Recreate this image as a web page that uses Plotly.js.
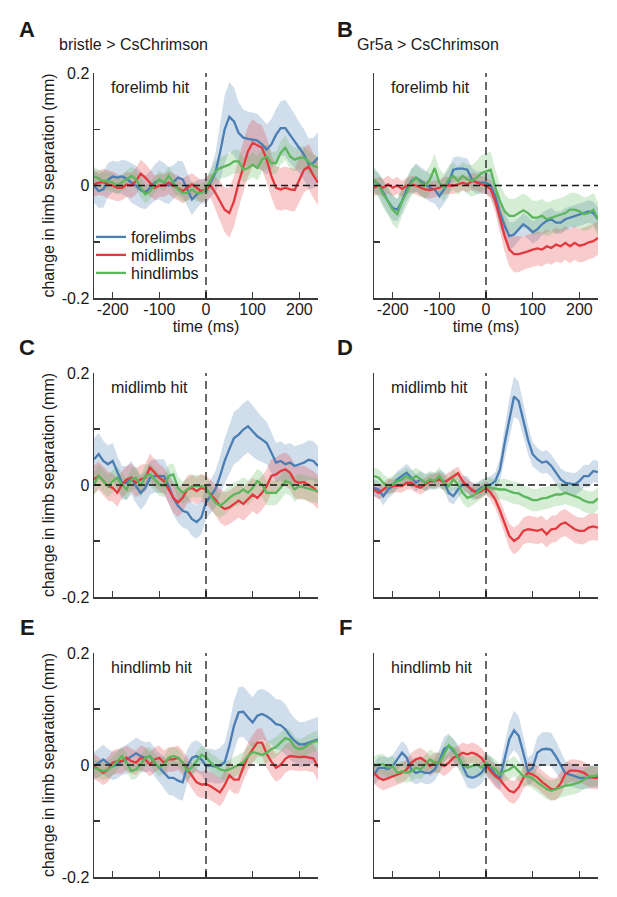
<!DOCTYPE html>
<html>
<head>
<meta charset="utf-8">
<script src="https://cdn.plot.ly/plotly-3.0.1.min.js"></script>
<style>
html,body{margin:0;padding:0;background:#ffffff;}
#chart{width:617px;height:897px;}
</style>
</head>
<body>
<div id="chart"></div>
<script>
// ---------------- data ----------------
const timeMs = [-240,-230,-220,-210,-200,-190,-180,-170,-160,-150,-140,-130,-120,-110,-100,-90,-80,-70,-60,-50,-40,-30,-20,-10,0,10,20,30,40,50,60,70,80,90,100,110,120,130,140,150,160,170,180,190,200,210,220,230,240];

const seriesNames = ["forelimbs","midlimbs","hindlimbs"];
const panelLetters = ["A","B","C","D","E","F"];
const hitLabels = ["forelimb hit","forelimb hit","midlimb hit","midlimb hit","hindlimb hit","hindlimb hit"];
const genotypeLabels = ["bristle > CsChrimson","Gr5a > CsChrimson"];
const yTickVals = [-0.2,-0.1,0,0.1,0.2];
const yTickText = ["-0.2","","0","","0.2"];
const xTickVals = [-200,-100,0,100,200];
const xTickText = ["-200","-100","0","100","200"];
const xTitle = "time (ms)";
const yTitle = "change in limb separation (mm)";

// Panel A: bristle > CsChrimson, forelimb hit
const A_fore = [0,-0.01,-0.007,0.01,0.016,0.014,0.016,0.012,0.005,0,-0.008,-0.012,-0.004,0.005,0.01,0.005,0,0.006,0.014,0.011,-0.007,-0.025,-0.016,-0.01,-0.01,0.005,0.022,0.058,0.1,0.122,0.114,0.093,0.085,0.083,0.082,0.08,0.073,0.064,0.073,0.09,0.102,0.102,0.09,0.079,0.067,0.055,0.038,0.04,0.05];
const A_mid = [0.002,0.005,0.006,0.002,0,-0.004,-0.004,0.002,0,0.008,0.021,0.014,0.005,-0.004,0,0,0.005,0,-0.004,-0.01,-0.004,0.002,-0.004,-0.01,-0.007,0,-0.013,-0.028,-0.043,-0.049,-0.028,0.005,0.034,0.061,0.076,0.071,0.067,0.046,0.017,-0.004,-0.007,-0.004,-0.007,-0.008,0.01,0.028,0.034,0.018,0.005];
const A_hind = [0.017,0.012,0.008,0.008,0.005,0,0.005,0.011,0.017,0.011,-0.004,-0.016,-0.01,0.002,0.011,0.005,0.017,0.005,-0.007,-0.013,-0.013,-0.007,-0.013,-0.013,-0.007,0.011,0.025,0.031,0.034,0.037,0.043,0.043,0.028,0.031,0.037,0.031,0.046,0.052,0.04,0.04,0.058,0.067,0.052,0.046,0.049,0.05,0.042,0.035,0.032];
const A_fore_sem = [0.03,0.03,0.032,0.03,0.028,0.028,0.03,0.032,0.035,0.035,0.032,0.03,0.03,0.032,0.035,0.035,0.033,0.03,0.03,0.032,0.03,0.028,0.025,0.022,0.022,0.025,0.035,0.05,0.06,0.062,0.06,0.055,0.05,0.048,0.048,0.047,0.046,0.045,0.045,0.046,0.048,0.05,0.05,0.048,0.045,0.045,0.045,0.045,0.045];
const A_mid_sem = [0.022,0.022,0.024,0.025,0.025,0.024,0.022,0.022,0.022,0.024,0.025,0.025,0.024,0.022,0.02,0.02,0.02,0.022,0.022,0.022,0.022,0.02,0.02,0.02,0.02,0.022,0.028,0.035,0.04,0.044,0.045,0.045,0.045,0.045,0.042,0.04,0.04,0.04,0.038,0.038,0.038,0.038,0.038,0.038,0.038,0.04,0.04,0.04,0.04];
const A_hind_sem = [0.016,0.016,0.017,0.017,0.016,0.015,0.015,0.016,0.016,0.017,0.017,0.016,0.015,0.015,0.016,0.016,0.017,0.017,0.016,0.015,0.015,0.015,0.016,0.016,0.016,0.017,0.018,0.019,0.02,0.02,0.021,0.021,0.022,0.022,0.022,0.022,0.021,0.021,0.02,0.02,0.021,0.022,0.022,0.021,0.02,0.02,0.02,0.02,0.02];

// Panel B: Gr5a > CsChrimson, forelimb hit
const B_fore = [0.008,0.002,-0.013,-0.028,-0.04,-0.043,-0.028,-0.007,0.008,0.014,0.008,0.002,-0.004,-0.007,-0.019,-0.007,0.005,0.028,0.03,0.03,0.028,0.011,0.005,0.005,0.005,0,-0.019,-0.049,-0.072,-0.09,-0.087,-0.078,-0.069,-0.075,-0.083,-0.078,-0.069,-0.063,-0.06,-0.066,-0.066,-0.06,-0.057,-0.054,-0.051,-0.049,-0.046,-0.049,-0.06];
const B_mid = [-0.004,0,-0.004,0.002,-0.004,0,-0.006,0,0.002,0,-0.004,-0.007,-0.008,-0.006,-0.004,0,0,0,0.002,0.005,0.002,0.008,0.006,0.002,0,-0.007,-0.028,-0.06,-0.09,-0.114,-0.122,-0.122,-0.12,-0.117,-0.114,-0.112,-0.114,-0.108,-0.111,-0.105,-0.108,-0.102,-0.108,-0.102,-0.107,-0.105,-0.101,-0.099,-0.093];
const B_hind = [0.011,0,-0.016,-0.028,-0.043,-0.051,-0.028,-0.013,0.005,0.014,0.005,0,0.011,0.031,0.005,-0.004,0.011,0.017,0.008,0.017,0.011,0.008,0.014,0.022,0.025,0.028,-0.004,-0.028,-0.046,-0.054,-0.054,-0.049,-0.044,-0.049,-0.057,-0.057,-0.054,-0.06,-0.057,-0.054,-0.051,-0.049,-0.043,-0.043,-0.046,-0.051,-0.049,-0.043,-0.06];
const B_fore_sem = [0.02,0.02,0.022,0.022,0.022,0.02,0.02,0.02,0.022,0.025,0.025,0.025,0.025,0.025,0.025,0.025,0.025,0.022,0.022,0.02,0.02,0.02,0.02,0.02,0.02,0.02,0.022,0.025,0.025,0.025,0.022,0.02,0.02,0.02,0.02,0.02,0.02,0.02,0.02,0.02,0.02,0.02,0.02,0.02,0.02,0.02,0.02,0.02,0.022];
const B_mid_sem = [0.015,0.015,0.016,0.016,0.015,0.015,0.014,0.014,0.015,0.016,0.016,0.015,0.015,0.014,0.014,0.015,0.015,0.015,0.014,0.014,0.014,0.015,0.015,0.015,0.015,0.016,0.02,0.024,0.028,0.03,0.032,0.032,0.03,0.03,0.03,0.03,0.03,0.03,0.03,0.03,0.03,0.03,0.03,0.03,0.03,0.03,0.03,0.03,0.03];
const B_hind_sem = [0.022,0.022,0.024,0.025,0.026,0.026,0.026,0.025,0.024,0.024,0.024,0.024,0.025,0.025,0.025,0.024,0.024,0.024,0.025,0.025,0.026,0.028,0.03,0.032,0.032,0.032,0.032,0.03,0.03,0.03,0.03,0.03,0.03,0.03,0.03,0.03,0.03,0.03,0.03,0.03,0.03,0.03,0.03,0.03,0.03,0.03,0.03,0.03,0.03];

// Panel C: bristle > CsChrimson, midlimb hit
const C_fore = [0.046,0.055,0.043,0.037,0.043,0.022,0.004,0.004,0.013,-0.002,-0.014,-0.005,0.013,0.016,0.016,0.016,-0.002,-0.023,-0.037,-0.046,-0.049,-0.061,-0.066,-0.058,-0.031,-0.02,-0.008,0.016,0.043,0.064,0.084,0.09,0.099,0.105,0.096,0.087,0.081,0.075,0.058,0.04,0.043,0.037,0.04,0.034,0.037,0.04,0.045,0.043,0.034];
const C_mid = [0.01,0.016,0.007,-0.002,-0.005,-0.014,0.001,0.01,0.013,0.004,0.01,0.013,0.031,0.022,0.013,0.007,-0.008,-0.023,-0.031,-0.023,-0.008,-0.005,-0.011,-0.005,-0.008,-0.017,-0.026,-0.037,-0.043,-0.04,-0.034,-0.028,-0.034,-0.026,-0.017,-0.023,-0.014,-0.002,0.016,0.019,0.025,0.028,0.022,0.007,0.004,0.005,0,-0.005,-0.013];
const C_hind = [0.001,0.016,0.007,-0.002,0.007,0.013,0.001,-0.008,0.01,0.013,-0.002,0.016,0.019,0.01,0.001,-0.002,0.016,0.019,-0.005,-0.014,-0.008,-0.002,-0.002,-0.002,-0.005,-0.02,-0.031,-0.037,-0.031,-0.023,-0.017,-0.014,-0.008,-0.014,-0.005,0.007,0.001,-0.014,-0.014,-0.014,-0.005,0.007,0.004,-0.008,-0.002,-0.004,-0.007,-0.009,-0.011];
const C_fore_sem = [0.038,0.038,0.036,0.034,0.032,0.03,0.03,0.03,0.03,0.03,0.03,0.03,0.03,0.03,0.03,0.03,0.03,0.03,0.03,0.03,0.03,0.03,0.03,0.03,0.03,0.03,0.032,0.035,0.04,0.045,0.047,0.047,0.047,0.047,0.045,0.043,0.04,0.038,0.036,0.035,0.035,0.035,0.035,0.035,0.035,0.035,0.035,0.035,0.035];
const C_mid_sem = [0.025,0.025,0.026,0.026,0.025,0.025,0.024,0.024,0.025,0.026,0.026,0.025,0.025,0.025,0.024,0.024,0.025,0.026,0.026,0.025,0.025,0.024,0.024,0.025,0.025,0.026,0.028,0.03,0.03,0.03,0.03,0.03,0.03,0.03,0.03,0.03,0.03,0.03,0.03,0.03,0.03,0.03,0.03,0.03,0.03,0.03,0.03,0.03,0.03];
const C_hind_sem = [0.02,0.02,0.02,0.02,0.02,0.02,0.02,0.02,0.02,0.02,0.02,0.02,0.02,0.02,0.02,0.02,0.02,0.02,0.02,0.02,0.02,0.02,0.02,0.02,0.02,0.021,0.022,0.022,0.022,0.022,0.022,0.022,0.022,0.022,0.022,0.022,0.022,0.022,0.022,0.022,0.022,0.022,0.022,0.022,0.022,0.022,0.022,0.022,0.022];

// Panel D: Gr5a > CsChrimson, midlimb hit
const D_fore = [-0.005,-0.008,-0.02,-0.008,-0.002,0.01,0.016,0.022,0.013,0.004,0.01,0.004,0.007,0.007,0.01,0.007,-0.014,-0.02,-0.008,0.001,0.001,-0.011,-0.011,-0.005,-0.002,0.001,0.007,0.028,0.075,0.12,0.158,0.15,0.117,0.081,0.055,0.046,0.04,0.042,0.034,0.022,0.01,0.004,0.003,0.001,0.007,0.016,0.016,0.025,0.023];
const D_mid = [-0.008,-0.014,-0.008,-0.002,-0.002,-0.001,-0.002,0.004,0.004,-0.002,-0.005,0.001,0.007,0.007,0.01,0.004,0.01,0.016,0.021,0.007,-0.002,-0.008,-0.014,-0.011,-0.005,-0.014,-0.026,-0.046,-0.067,-0.091,-0.1,-0.094,-0.082,-0.079,-0.08,-0.082,-0.079,-0.088,-0.079,-0.078,-0.07,-0.067,-0.073,-0.079,-0.082,-0.082,-0.076,-0.074,-0.076];
const D_hind = [0.016,0.013,0.004,-0.002,0.001,0.007,0.01,0.016,0.01,0.016,0.01,0.004,0.01,0.007,0.016,0.004,-0.002,0.01,0.001,-0.014,-0.023,-0.02,-0.014,-0.008,-0.002,-0.005,-0.007,-0.008,-0.008,-0.011,-0.014,-0.015,-0.02,-0.023,-0.027,-0.027,-0.024,-0.023,-0.02,-0.017,-0.017,-0.014,-0.017,-0.02,-0.023,-0.028,-0.031,-0.031,-0.024];
const D_fore_sem = [0.015,0.015,0.016,0.016,0.015,0.015,0.015,0.016,0.016,0.015,0.015,0.015,0.015,0.015,0.016,0.016,0.016,0.015,0.015,0.015,0.015,0.015,0.015,0.015,0.015,0.015,0.016,0.02,0.028,0.034,0.036,0.034,0.03,0.025,0.022,0.02,0.02,0.02,0.02,0.02,0.02,0.02,0.02,0.02,0.02,0.02,0.02,0.02,0.02];
const D_mid_sem = [0.012,0.012,0.013,0.013,0.012,0.012,0.012,0.012,0.012,0.012,0.012,0.012,0.012,0.012,0.013,0.013,0.013,0.012,0.012,0.012,0.012,0.012,0.012,0.012,0.012,0.013,0.015,0.018,0.02,0.022,0.024,0.024,0.024,0.024,0.024,0.024,0.024,0.024,0.024,0.024,0.024,0.024,0.024,0.024,0.024,0.024,0.024,0.024,0.024];
const D_hind_sem = [0.015,0.015,0.015,0.015,0.015,0.015,0.015,0.015,0.015,0.015,0.015,0.015,0.015,0.015,0.016,0.016,0.017,0.018,0.018,0.018,0.018,0.017,0.016,0.016,0.016,0.017,0.018,0.018,0.019,0.019,0.02,0.02,0.02,0.02,0.02,0.02,0.02,0.02,0.02,0.02,0.02,0.02,0.02,0.02,0.02,0.02,0.02,0.02,0.02];

// Panel E: bristle > CsChrimson, hindlimb hit
const E_fore = [-0.002,0.004,0.01,0.003,-0.002,0.001,0.007,0.01,0.016,0.021,0.016,0.013,0.016,0.004,-0.005,-0.014,-0.023,-0.023,-0.028,-0.031,-0.002,0.013,0.016,0.01,-0.001,-0.001,-0.003,-0.001,0.005,0.034,0.07,0.094,0.095,0.085,0.076,0.088,0.091,0.087,0.081,0.073,0.071,0.064,0.052,0.043,0.037,0.037,0.04,0.043,0.046];
const E_mid = [-0.002,-0.008,-0.014,-0.008,0.004,0.007,0.007,0.013,0.007,0.004,0.013,0.01,0.001,0.01,0.013,0.004,0.01,0.01,0.013,0.004,-0.008,-0.02,-0.031,-0.035,-0.034,-0.038,-0.043,-0.049,-0.036,-0.018,-0.026,-0.026,-0.004,0.015,0.028,0.04,0.04,0.02,0.006,-0.005,0,0.011,0.016,0.015,0.014,0.015,0.014,0.012,-0.004];
const E_hind = [-0.005,-0.008,-0.011,-0.008,-0.002,0.007,0.016,0.004,-0.011,-0.008,0.001,0.013,0.016,0.004,-0.005,0.001,0.013,0.016,0.013,0.004,-0.011,-0.004,0.008,0.018,0.014,0.004,-0.002,-0.008,-0.01,-0.008,-0.004,0.001,0.005,0.016,0.023,0.021,0.018,0.022,0.028,0.032,0.04,0.048,0.045,0.032,0.028,0.031,0.037,0.041,0.043];
const E_fore_sem = [0.025,0.025,0.026,0.026,0.025,0.025,0.025,0.026,0.027,0.028,0.028,0.027,0.026,0.026,0.027,0.028,0.03,0.032,0.033,0.033,0.03,0.028,0.028,0.028,0.03,0.03,0.03,0.032,0.035,0.04,0.045,0.045,0.045,0.045,0.045,0.045,0.045,0.045,0.045,0.045,0.045,0.045,0.042,0.04,0.04,0.04,0.04,0.04,0.04];
const E_mid_sem = [0.022,0.022,0.022,0.022,0.022,0.022,0.022,0.022,0.022,0.022,0.022,0.022,0.022,0.022,0.022,0.022,0.022,0.022,0.022,0.022,0.022,0.023,0.024,0.024,0.025,0.025,0.025,0.025,0.025,0.025,0.025,0.025,0.025,0.025,0.025,0.025,0.025,0.025,0.025,0.025,0.025,0.025,0.025,0.025,0.025,0.025,0.025,0.025,0.025];
const E_hind_sem = [0.016,0.016,0.016,0.016,0.016,0.016,0.016,0.016,0.016,0.016,0.016,0.016,0.016,0.016,0.016,0.016,0.016,0.016,0.016,0.016,0.016,0.016,0.016,0.016,0.016,0.017,0.017,0.017,0.017,0.017,0.018,0.018,0.018,0.018,0.018,0.018,0.018,0.018,0.018,0.018,0.018,0.018,0.018,0.018,0.018,0.018,0.018,0.018,0.018];

// Panel F: Gr5a > CsChrimson, hindlimb hit
const F_fore = [-0.017,-0.005,-0.005,-0.007,-0.002,0.01,0.022,0.013,-0.008,-0.014,-0.011,-0.014,-0.014,-0.008,0.007,0.028,0.034,0.025,0.016,-0.002,-0.02,-0.023,-0.02,-0.014,-0.002,-0.005,-0.017,-0.023,0.01,0.046,0.062,0.052,0.022,-0.012,-0.005,0.022,0.028,0.029,0.027,0.015,0,-0.015,-0.017,-0.02,-0.023,-0.023,-0.023,-0.02,-0.02];
const F_mid = [-0.014,-0.023,-0.027,-0.024,-0.02,-0.017,-0.014,-0.008,0.004,0.01,0.013,0.007,-0.002,0.004,0.004,-0.002,0.004,0.013,0.016,0.022,0.019,0.022,0.019,0.013,0.001,-0.011,-0.02,-0.026,-0.037,-0.046,-0.049,-0.04,-0.023,-0.014,-0.017,-0.022,-0.03,-0.037,-0.043,-0.043,-0.033,-0.016,-0.01,-0.01,-0.011,-0.014,-0.02,-0.023,-0.023];
const F_hind = [-0.002,0.001,0.001,-0.005,-0.002,-0.014,-0.011,-0.014,-0.011,-0.005,-0.008,0.001,0.01,0.004,0.004,0.019,0.035,0.028,0.013,0.001,-0.005,-0.002,0.001,-0.005,0.004,-0.002,-0.008,-0.017,-0.011,-0.008,-0.002,-0.011,-0.02,-0.02,-0.024,-0.031,-0.037,-0.043,-0.046,-0.043,-0.04,-0.037,-0.036,-0.034,-0.031,-0.026,-0.02,-0.02,-0.018];
const F_fore_sem = [0.02,0.02,0.02,0.02,0.02,0.02,0.021,0.022,0.022,0.021,0.02,0.02,0.02,0.02,0.021,0.022,0.022,0.022,0.021,0.02,0.02,0.02,0.02,0.02,0.02,0.02,0.02,0.022,0.025,0.03,0.035,0.035,0.03,0.025,0.025,0.028,0.03,0.03,0.03,0.028,0.025,0.022,0.02,0.02,0.02,0.02,0.02,0.02,0.02];
const F_mid_sem = [0.018,0.018,0.018,0.018,0.018,0.018,0.018,0.018,0.018,0.018,0.018,0.018,0.018,0.018,0.018,0.018,0.018,0.018,0.018,0.018,0.018,0.018,0.018,0.018,0.018,0.019,0.02,0.02,0.02,0.02,0.02,0.02,0.02,0.02,0.02,0.02,0.02,0.02,0.02,0.02,0.02,0.02,0.02,0.02,0.02,0.02,0.02,0.02,0.02];
const F_hind_sem = [0.018,0.018,0.018,0.018,0.018,0.018,0.018,0.018,0.018,0.018,0.018,0.018,0.018,0.018,0.018,0.018,0.018,0.018,0.018,0.018,0.018,0.018,0.018,0.018,0.018,0.018,0.018,0.018,0.018,0.018,0.018,0.018,0.018,0.018,0.018,0.018,0.018,0.018,0.018,0.018,0.018,0.018,0.018,0.018,0.018,0.018,0.018,0.018,0.018];

// ---------------- styling ----------------
const W = 617, H = 897;
const FONT = "Arial, 'Liberation Sans', Helvetica, sans-serif";
const FS = 16;
const TXT = "#1a1a1a";
const lineColors = ["#4a7db3","#e3393e","#5cb65c"];
const bandColors = ["rgba(74,125,179,0.26)","rgba(227,57,62,0.26)","rgba(92,182,92,0.26)"];
const axisColor = "#3a3a3a";
const xRange = [-240, 240];
const yRange = [-0.2, 0.2];
// pixel geometry of the panels
const colPx = [[94,318],[374,598]];
const rowPx = [[73,298],[373,597],[653,877]];
const letterPos = [[27,30],[345,30],[27,347],[345,347],[27,627],[345,627]];
const genotypePos = [[57,45],[355,44]];
const legendIds = ["legend","legend2","legend3"];
const legendRowPx = [237,255,273];
const legendLeftPx = 91;

const panels = [
  {means:[A_fore,A_mid,A_hind], sems:[A_fore_sem,A_mid_sem,A_hind_sem], col:0, row:0},
  {means:[B_fore,B_mid,B_hind], sems:[B_fore_sem,B_mid_sem,B_hind_sem], col:1, row:0},
  {means:[C_fore,C_mid,C_hind], sems:[C_fore_sem,C_mid_sem,C_hind_sem], col:0, row:1},
  {means:[D_fore,D_mid,D_hind], sems:[D_fore_sem,D_mid_sem,D_hind_sem], col:1, row:1},
  {means:[E_fore,E_mid,E_hind], sems:[E_fore_sem,E_mid_sem,E_hind_sem], col:0, row:2},
  {means:[F_fore,F_mid,F_hind], sems:[F_fore_sem,F_mid_sem,F_hind_sem], col:1, row:2}
];

const traces = [];
const layout = {
  width: W, height: H,
  margin: {l:0, r:0, t:0, b:0, pad:0},
  paper_bgcolor: "#ffffff",
  plot_bgcolor: "rgba(0,0,0,0)",
  font: {family: FONT, size: FS, color: TXT},
  showlegend: true,
  shapes: [],
  annotations: []
};
legendIds.forEach((id, s) => {
  layout[id] = {
    x: legendLeftPx/W, y: 1 - legendRowPx[s]/H, xanchor: "left", yanchor: "middle",
    bgcolor: "rgba(0,0,0,0)", borderwidth: 0,
    font: {family: FONT, size: FS, color: TXT},
    tracegroupgap: 0, itemwidth: 30
  };
});

panels.forEach((p, k) => {
  const n = k + 1;
  const xa = "x" + (n === 1 ? "" : n);
  const ya = "y" + (n === 1 ? "" : n);
  const xKey = "xaxis" + (n === 1 ? "" : n);
  const yKey = "yaxis" + (n === 1 ? "" : n);

  // shaded error bands
  p.means.forEach((m, s) => {
    const sem = p.sems[s];
    const upper = m.map((v, i) => v + sem[i]);
    const lower = m.map((v, i) => v - sem[i]);
    traces.push({
      type: "scatter", mode: "lines",
      x: timeMs.concat(timeMs.slice().reverse()),
      y: upper.concat(lower.slice().reverse()),
      fill: "toself", fillcolor: bandColors[s],
      line: {width: 0, color: "rgba(0,0,0,0)"},
      hoverinfo: "skip", showlegend: false,
      xaxis: xa, yaxis: ya
    });
  });
  // mean lines
  p.means.forEach((m, s) => {
    traces.push({
      type: "scatter", mode: "lines",
      x: timeMs, y: m,
      name: seriesNames[s],
      line: {color: lineColors[s], width: 2.3},
      showlegend: k === 0,
      legend: legendIds[s],
      xaxis: xa, yaxis: ya
    });
  });

  const colD = colPx[p.col];
  const rowD = rowPx[p.row];
  layout[xKey] = {
    domain: [colD[0]/W, colD[1]/W],
    range: xRange, anchor: ya,
    showline: true, linecolor: axisColor, linewidth: 1.5,
    mirror: false, showgrid: false, zeroline: false,
    ticks: "inside", ticklen: 6, tickwidth: 1.5, tickcolor: axisColor,
    tickmode: "array", tickvals: xTickVals, ticktext: xTickText,
    showticklabels: p.row === 0,
    ticklabelstandoff: -4,
    tickfont: {family: FONT, size: FS, color: TXT},
    fixedrange: true
  };
  if (p.row === 0) {
    layout[xKey].title = {text: xTitle, font: {family: FONT, size: FS, color: TXT}, standoff: 1};
  }
  layout[yKey] = {
    domain: [1 - rowD[1]/H, 1 - rowD[0]/H],
    range: yRange, anchor: xa,
    showline: true, linecolor: axisColor, linewidth: 1.5,
    mirror: false, showgrid: false, zeroline: false,
    ticks: "inside", ticklen: 6, tickwidth: 1.5, tickcolor: axisColor,
    tickmode: "array", tickvals: yTickVals, ticktext: yTickText,
    showticklabels: p.col === 0,
    tickfont: {family: FONT, size: FS, color: TXT},
    fixedrange: true
  };
  if (p.col === 0) {
    layout[yKey].title = {text: yTitle, font: {family: FONT, size: FS, color: TXT}, standoff: 3};
  }

  // dashed reference lines at t = 0 and y = 0
  layout.shapes.push({type: "line", xref: xa, yref: ya, x0: xRange[0], x1: xRange[1], y0: 0, y1: 0,
    line: {color: TXT, width: 1.3, dash: "7px,4px"}, layer: "above"});
  layout.shapes.push({type: "line", xref: xa, yref: ya, x0: 0, x1: 0, y0: yRange[0], y1: yRange[1],
    line: {color: TXT, width: 1.3, dash: "8px,5px"}, layer: "above"});

  // hit label inside panel
  layout.annotations.push({
    text: hitLabels[k], xref: xa + " domain", yref: ya + " domain",
    x: 0.068, y: 0.935, xanchor: "left", yanchor: "middle", showarrow: false,
    font: {family: FONT, size: FS, color: TXT}
  });
  // panel letter
  layout.annotations.push({
    text: "<b>" + panelLetters[k] + "</b>", xref: "paper", yref: "paper",
    x: letterPos[k][0]/W, y: 1 - letterPos[k][1]/H, xanchor: "center", yanchor: "middle",
    showarrow: false, font: {family: FONT, size: 22, color: TXT}
  });
});

genotypeLabels.forEach((g, c) => {
  layout.annotations.push({
    text: g, xref: "paper", yref: "paper",
    x: genotypePos[c][0]/W, y: 1 - genotypePos[c][1]/H, xanchor: "left", yanchor: "middle",
    showarrow: false, font: {family: FONT, size: FS, color: TXT}
  });
});

Plotly.newPlot("chart", traces, layout, {displayModeBar: false, staticPlot: true});
</script>
</body>
</html>
